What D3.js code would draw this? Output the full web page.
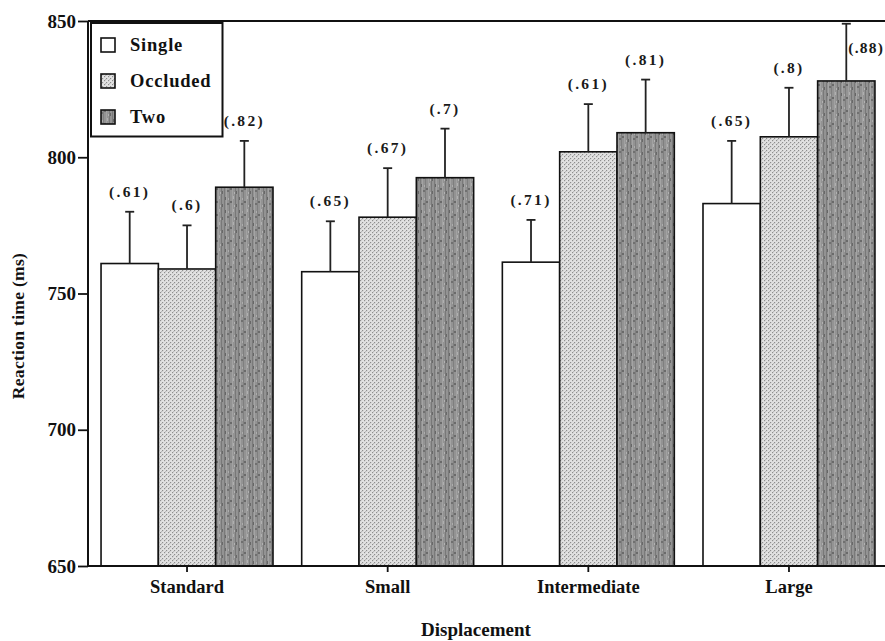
<!DOCTYPE html>
<html><head><meta charset="utf-8">
<script src="https://cdn.jsdelivr.net/npm/d3@7/dist/d3.min.js"></script>
<style>
html,body{margin:0;padding:0;background:#fff;}
svg{display:block;font-family:"Liberation Serif","DejaVu Serif",serif;font-weight:bold;}
</style></head>
<body>
<svg id="chart" width="885" height="641"></svg>
<script>
// ---- data ----
const categories = ["Standard", "Small", "Intermediate", "Large"];
const seriesNames = ["Single", "Occluded", "Two"];
const singleRT   = [761, 758, 761.5, 783];
const occludedRT = [759, 778, 802, 807.5];
const twoRT      = [789, 792.5, 809, 828];
const singleErr   = [19, 18.5, 15.5, 23];
const occludedErr = [16, 18, 17.5, 18];
const twoErr      = [17, 18, 19.5, 21];
const singleAcc   = [".61", ".65", ".71", ".65"];
const occludedAcc = [".6", ".67", ".61", ".8"];
const twoAcc      = [".82", ".7", ".81", ".88"];
const yTicks = [650, 700, 750, 800, 850];
const yTitle = "Reaction time (ms)";
const xTitle = "Displacement";

(function(){
const svg = d3.select("#chart");
const W = 885;
const mLeft = 88, mRight = 888, mTop = 21, mBottom = 566;

// patterns
const defs = svg.append("defs");
const pOcc = defs.append("pattern").attr("id","pOcc").attr("patternUnits","userSpaceOnUse")
  .attr("width",4).attr("height",4);
pOcc.append("rect").attr("width",4).attr("height",4).attr("fill","#e2e2e2");
[[0,0],[2,2]].forEach(([x,y])=>pOcc.append("rect").attr("x",x).attr("y",y).attr("width",1.2).attr("height",1.2).attr("fill","#8e8e8e"));
pOcc.append("rect").attr("x",1).attr("y",3).attr("width",1).attr("height",1).attr("fill","#bbbbbb");

const pTwo = defs.append("pattern").attr("id","pTwo").attr("patternUnits","userSpaceOnUse")
  .attr("width",14).attr("height",13);
pTwo.append("rect").attr("width",14).attr("height",13).attr("fill","#939393");
const twoStreaks = [[0,0,1,13,"#7a7a7a"],[2,0,1,13,"#a4a4a4"],[5,0,1,13,"#7f7f7f"],[8,0,1,13,"#a2a2a2"],[11,0,1,13,"#787878"],
  [1,2,1,3,"#666"],[6,6,2,2,"#6a6a6a"],[9,1,1,3,"#b0b0b0"],[3,8,2,2,"#707070"],[12,9,1,3,"#686868"],[4,3,1,2,"#adadad"],[10,10,1,2,"#b2b2b2"]];
twoStreaks.forEach(([x,y,w,h,c])=>pTwo.append("rect").attr("x",x).attr("y",y).attr("width",w).attr("height",h).attr("fill",c));

const fills = {Single:"#ffffff", Occluded:"url(#pOcc)", Two:"url(#pTwo)"};

// scales
const x0 = d3.scaleBand().domain(categories).range([mLeft, mRight]).paddingInner(0.143).paddingOuter(0.065);
const x1 = d3.scaleBand().domain(seriesNames).range([0, x0.bandwidth()]).padding(0);
const y = d3.scaleLinear().domain([650, 850]).range([mBottom, mTop]);

const rows = [];
const vals = {Single:singleRT, Occluded:occludedRT, Two:twoRT};
const errs = {Single:singleErr, Occluded:occludedErr, Two:twoErr};
const accs = {Single:singleAcc, Occluded:occludedAcc, Two:twoAcc};
categories.forEach((c,i)=>seriesNames.forEach(s=>rows.push({cat:c, s, v:vals[s][i], e:errs[s][i], a:accs[s][i]})));

// bars
svg.append("g").selectAll("rect").data(rows).join("rect")
  .attr("x", d=>x0(d.cat)+x1(d.s))
  .attr("y", d=>y(d.v))
  .attr("width", x1.bandwidth())
  .attr("height", d=>y(650)-y(d.v))
  .attr("fill", d=>fills[d.s])
  .attr("stroke","#111").attr("stroke-width",1.6);

// error bars
const eg = svg.append("g").attr("stroke","#222").attr("stroke-width",1.8);
rows.forEach(d=>{
  const cx = x0(d.cat)+x1(d.s)+x1.bandwidth()/2;
  eg.append("line").attr("x1",cx).attr("x2",cx).attr("y1",y(d.v)).attr("y2",y(d.v+d.e));
  eg.append("line").attr("x1",cx-4.5).attr("x2",cx+4.5).attr("y1",y(d.v+d.e)).attr("y2",y(d.v+d.e));
});

// accuracy labels
const nearTop = d => y(d.v+d.e) < mTop+15;
svg.append("g").selectAll("text").data(rows).join("text")
  .attr("x", d=>{const cx = x0(d.cat)+x1(d.s)+x1.bandwidth()/2; return nearTop(d) ? cx+2 : cx;})
  .attr("y", d=> nearTop(d) ? y(d.v+d.e)+29 : y(d.v+d.e)-15)
  .attr("text-anchor", d=> nearTop(d) ? "start" : "middle")
  .attr("font-size",15.5).attr("letter-spacing", d=> nearTop(d) ? "1.2px" : "2.3px").attr("fill","#1a1a1a")
  .text(d=>"("+d.a+")");

// axes
const yAxis = svg.append("g").attr("transform",`translate(${mLeft},0)`)
  .call(d3.axisLeft(y).tickValues(yTicks).tickSize(10).tickPadding(2).tickFormat(d3.format("d")));
yAxis.select(".domain").attr("stroke","#111").attr("stroke-width",2).attr("d",`M0,${mBottom}V${mTop}`);
yAxis.selectAll(".tick line").attr("stroke","#111").attr("stroke-width",1.8);
yAxis.selectAll(".tick text").attr("font-size",19).attr("fill","#111").attr("font-family","Liberation Serif").attr("font-weight","bold");

const xAxis = svg.append("g").attr("transform",`translate(0,${mBottom})`)
  .call(d3.axisBottom(x0).tickSize(6).tickPadding(8));
xAxis.select(".domain").attr("stroke","#111").attr("stroke-width",2).attr("d",`M${mLeft},0H${W}`);
xAxis.selectAll(".tick line").attr("stroke","#111").attr("stroke-width",1.8);
xAxis.selectAll(".tick text").attr("font-size",18.5).attr("fill","#111").attr("font-family","Liberation Serif").attr("font-weight","bold");

// top frame line
svg.append("line").attr("x1",mLeft).attr("x2",W).attr("y1",y(850)).attr("y2",y(850))
  .attr("stroke","#111").attr("stroke-width",2);

// titles
svg.append("text").attr("transform",`translate(24,326) rotate(-90)`).attr("text-anchor","middle")
  .attr("font-size",17.5).attr("letter-spacing","0.3px").attr("fill","#111").text(yTitle);
svg.append("text").attr("x",476).attr("y",636).attr("text-anchor","middle")
  .attr("font-size",19).attr("fill","#111").text(xTitle);

// legend
const lg = svg.append("g");
lg.append("rect").attr("x",91).attr("y",23).attr("width",131.5).attr("height",113.5)
  .attr("fill","#fff").attr("stroke","#111").attr("stroke-width",2);
seriesNames.forEach((s,i)=>{
  const cy = 45 + i*36;
  lg.append("rect").attr("x",101).attr("y",cy-7).attr("width",14).attr("height",14)
    .attr("fill",fills[s]).attr("stroke","#111").attr("stroke-width",1.6);
  lg.append("text").attr("x",130).attr("y",cy+6).attr("font-size",18.5).attr("letter-spacing","0.8px")
    .attr("fill","#111").text(s);
});
})();
</script>
</body></html>
